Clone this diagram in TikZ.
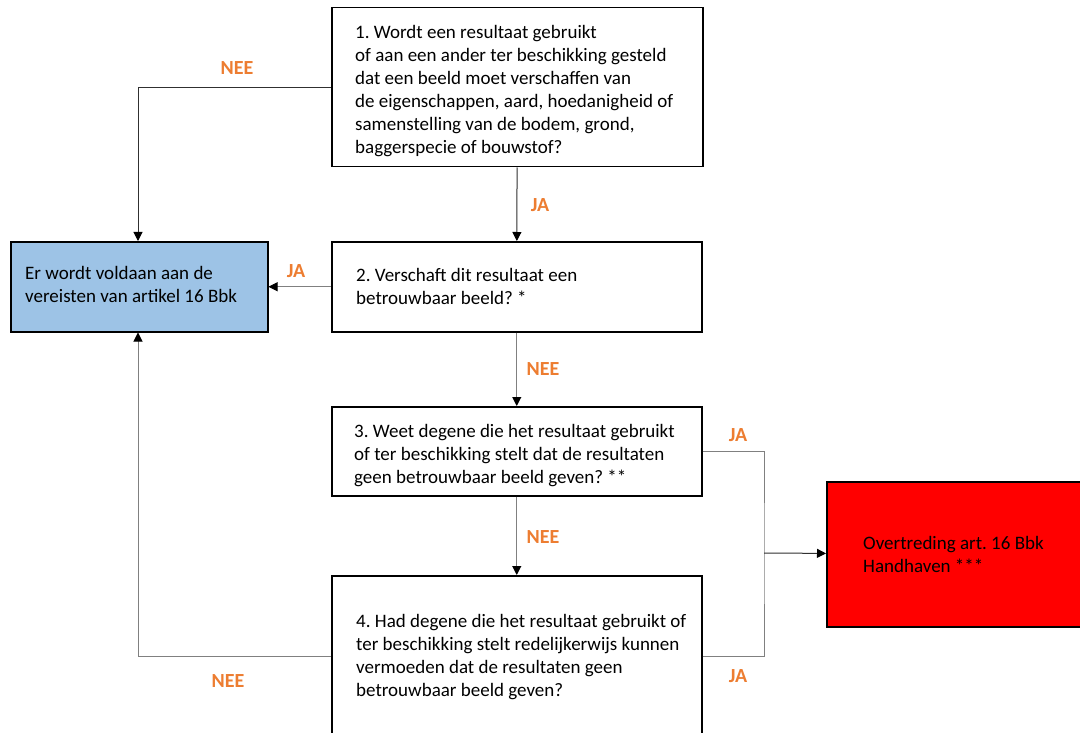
\documentclass[tikz,border=0pt]{standalone}
\usepackage{fontspec}
\setmainfont{Carlito}
\usepackage{tikz}
\usetikzlibrary{positioning,calc,arrows.meta}
\definecolor{lichtblauw}{HTML}{9DC3E6}
\definecolor{oranje}{HTML}{ED7D31}
\definecolor{lijn}{HTML}{303030}
\definecolor{grijs}{HTML}{808080}

\begin{document}
\begin{tikzpicture}[x=1pt, y=-1pt, font=\fontsize{19}{23}\selectfont\frenchspacing,
    vak/.style={draw, line width=1.5pt, anchor=north west},
    tekst/.style={align=left, inner sep=0pt, anchor=west},
    label/.style={text=oranje, font=\fontsize{20}{24}\selectfont\bfseries},
    pijl/.style={draw=lijn, line width=1pt, -{Triangle[length=9pt,width=9pt,color=black]}}]
    \useasboundingbox (0,0) rectangle (1080,733);
    \clip (0,0) rectangle (1080,733);
    \fill[white] (0,0) rectangle (1080,733);

    % Vragen
    \node[vak, minimum width=371pt, minimum height=159pt] (B1) at (331,7) {};
    \node[tekst, right=24pt of B1.west, yshift=-4pt] (T1)
        {1. Wordt een resultaat gebruikt\\of aan een ander ter beschikking gesteld\\dat een beeld moet verschaffen van\\de eigenschappen, aard, hoedanigheid of\\samenstelling van de bodem, grond,\\baggerspecie of bouwstof?};
    \node[vak, minimum width=370pt, minimum height=90pt] (B2) at (331,241) {};
    \node[tekst, right=25pt of B2.west] (T2)
        {2. Verschaft dit resultaat een\\betrouwbaar beeld? *};
    \node[vak, minimum width=370pt, minimum height=89pt] (B3) at (331,406) {};
    \node[tekst, right=23pt of B3.west, yshift=-4pt] (T3)
        {3. Weet degene die het resultaat gebruikt\\of ter beschikking stelt dat de resultaten\\geen betrouwbaar beeld geven? **};
    \node[vak, minimum width=370pt, minimum height=162pt] (B4) at (331,575) {};
    \node[tekst, right=25pt of B4.west] (T4)
        {4. Had degene die het resultaat gebruikt of\\ter beschikking stelt redelijkerwijs kunnen\\vermoeden dat de resultaten geen\\betrouwbaar beeld geven?};

    % Uitkomsten
    \node[vak, fill=lichtblauw, minimum width=257pt, minimum height=90pt] (blauw) at (10,241) {};
    \node[tekst, right=15pt of blauw.west, yshift=2pt] (T5)
        {Er wordt voldaan aan de\\vereisten van artikel 16 Bbk};
    \node[vak, fill=red, minimum width=264pt, minimum height=145pt] (rood) at (826,481) {};
    \node[tekst, right=37pt of rood.west] (T6)
        {Overtreding art. 16 Bbk\\Handhaven ***};

    % Hulppunten
    \coordinate (k1) at (138,0);
    \coordinate (k2) at (764,553);

    % Verbindingen
    \draw[pijl] (B1.west) -| (k1 |- blauw.north);
    \draw[pijl] (B1) -- (B2);
    \draw[pijl, draw=grijs] (B2) -- (blauw);
    \draw[pijl, draw=grijs] (B2) -- (B3);
    \draw[pijl, draw=grijs] (B3) -- (B4);
    \draw[draw=grijs, line width=1pt] (B3.east) -| (k2) |- (B4.east);
    \draw[pijl] (k2) -- (rood);
    \draw[pijl, draw=grijs] (B4.west) -| (k1 |- blauw.south);

    % Labels
    \node[label] (n1) at (237,68) {NEE};
    \node[label] (j1) at (540,205) {JA};
    \node[label] (j2) at (296,271) {JA};
    \node[label] (n2) at (543,369) {NEE};
    \node[label] (n3) at (543,537) {NEE};
    \node[label] (j3) at (738,435) {JA};
    \node[label] (j4) at (738,676) {JA};
    \node[label] (n4) at (228,681) {NEE};
\end{tikzpicture}
\end{document}
